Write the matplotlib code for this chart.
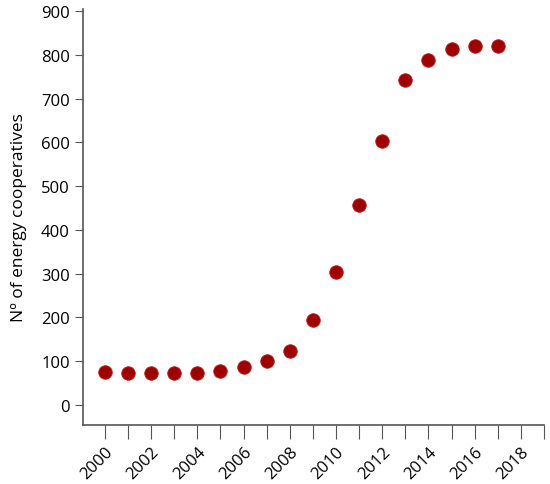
import matplotlib.pyplot as plt

plt.rcParams['font.family'] = ['Open Sans', 'DejaVu Sans']

years = list(range(2000, 2018))
coops = [75, 72, 72, 72, 74, 78, 87, 100, 123, 193, 303, 458, 603, 743, 788, 813, 820, 820]
tick_years = list(range(2000, 2020))
label_years = list(range(2000, 2019, 2))

fig = plt.figure(figsize=(5.5, 4.85), dpi=100)
ax = fig.add_axes([83 / 550, 1 - 426 / 485, (544 - 83) / 550, (426 - 10) / 485])

ax.scatter(years, coops, s=95, color='#a00000', edgecolors='#b82020', linewidths=0.6, zorder=3)

ax.set_xlim(1999.05, 2019)
ax.set_ylim(-46, 905)
ax.set_xticks(tick_years)
ax.set_xticklabels([str(y) if y in label_years else '' for y in tick_years],
                   rotation=45, ha='right', rotation_mode='anchor', fontsize=12)
ax.set_yticks(range(0, 901, 100))
ax.tick_params(axis='y', labelsize=12, length=6, color='#555555')
ax.tick_params(axis='x', length=10, color='#555555')
ax.spines['top'].set_visible(False)
ax.spines['right'].set_visible(False)
for s in ['left', 'bottom']:
    ax.spines[s].set_color('#555555')
    ax.spines[s].set_linewidth(1.2)
ax.set_ylabel('Nº of energy cooperatives', fontsize=12.5, labelpad=10)

fig.savefig('out.png', dpi=100)
